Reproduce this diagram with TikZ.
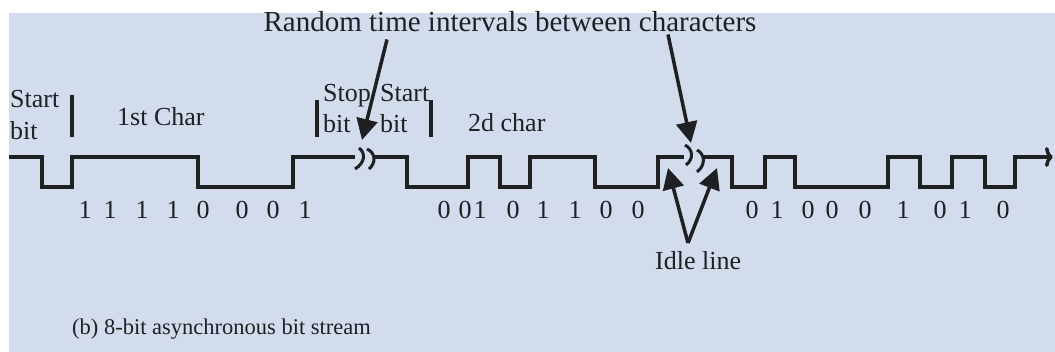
\documentclass[tikz,border=0pt]{standalone}
\usepackage{fontspec}
\setmainfont{Liberation Serif}
\usetikzlibrary{arrows.meta}

\definecolor{panel}{RGB}{211,220,237}
\definecolor{ink}{RGB}{30,32,34}

\tikzset{
  wave/.style={line width=3.5pt,ink,line join=miter},
  brk/.style={line width=3pt,ink},
  bar/.style={line width=4pt,ink},
  ptr/.style={line width=3.5pt,ink,-{Triangle[length=21pt,width=21pt]}},
  lbl/.style={inner sep=0pt,anchor=base west,text=ink,font=\fontsize{26}{30}\selectfont},
  bitno/.style={inner sep=0pt,anchor=base,text=ink,font=\fontsize{26}{30}\selectfont}
}

\begin{document}
\begin{tikzpicture}[x=1pt,y=-1pt]
  \useasboundingbox (0,0) rectangle (1055,352);
  \fill[panel] (9,13) rectangle (1055,352);

  % the line
  \draw[wave] (9,157) -- (42,157) -- (42,187) -- (72,187) -- (72,157) -- (198,157)
    -- (198,187) -- (293,187) -- (293,157) -- (355,157);
  \draw[brk] (359,148) .. controls (366,153) and (365,163) .. (355,169);
  \draw[brk] (367,149) .. controls (376,153) and (376,163) .. (369,169);
  \draw[wave] (375,157) -- (407,157) -- (407,187) -- (468,187) -- (468,157) -- (500,157)
    -- (500,187) -- (530,187) -- (530,157) -- (595,157) -- (595,187) -- (658,187)
    -- (658,157) -- (684,157);
  \draw[brk] (685,145) .. controls (693,149) and (694,159) .. (686,165);
  \draw[brk] (697,150) .. controls (705,154) and (706,165) .. (697,172);
  \draw[wave,-{To[length=8pt,width=20pt]}] (703,157) -- (732,157) -- (732,187) -- (765,187)
    -- (765,157) -- (795,157) -- (795,187) -- (888,187) -- (888,157) -- (920,157)
    -- (920,187) -- (952,187) -- (952,157) -- (985,157) -- (985,187) -- (1015,187)
    -- (1015,157) -- (1053,157);

  % character boundaries
  \draw[bar] (72,95) -- (72,137);
  \draw[bar] (317,100) -- (317,137);
  \draw[bar] (431,100) -- (431,137);

  % labels
  \node[lbl] (start1) at (10,108) {Start};
  \node[lbl] (startbit1) at (10,140) {bit};
  \node[lbl] (char1) at (117,126) {1st Char};
  \node[lbl] (stop) at (323,102) {Stop};
  \node[lbl] (stopbit) at (323,133) {bit};
  \node[lbl] (start2) at (380,102) {Start};
  \node[lbl] (startbit2) at (380,133) {bit};
  \node[lbl] (char2) at (468,132) {2d char};
  \node[lbl,anchor=base,font=\fontsize{29}{33}\selectfont] (rnd) at (510,32) {Random time intervals between characters};
  \node[lbl] (idle) at (655,270) {Idle line};
  \node[lbl,font=\fontsize{22.5}{27}\selectfont] (caption) at (72,335) {(b) 8-bit asynchronous bit stream};

  % bit values
  \foreach \x/\b [count=\i] in {85/1,110/1,142/1,173/1,203/0,242/0,273/0,305/1}
    \node[bitno] (a\i) at (\x,219) {\b};
  \foreach \x/\b [count=\i] in {444/0,465/0,480/1,513/0,543/1,575/1,606/0,638/0}
    \node[bitno] (b\i) at (\x,219) {\b};
  \foreach \x/\b [count=\i] in {752/0,777/1,808/0,832/0,865/0,903/1,940/0,965/1,1003/0}
    \node[bitno] (c\i) at (\x,219) {\b};

  % pointers
  \coordinate (gap1) at (362,140);
  \coordinate (gap2) at (691,143);
  \coordinate (idleL) at (668,168);
  \coordinate (idleR) at (717,168);
  \coordinate (idletop) at (688,243);
  \draw[ptr] (rnd.south -| 387,0) ++(0,7) -- (gap1);
  \draw[ptr] (rnd.south -| 668,0) ++(0,2) -- (gap2);
  \draw[ptr] (idletop) -- (idleL);
  \draw[ptr] (idletop) -- (idleR);
\end{tikzpicture}
\end{document}
